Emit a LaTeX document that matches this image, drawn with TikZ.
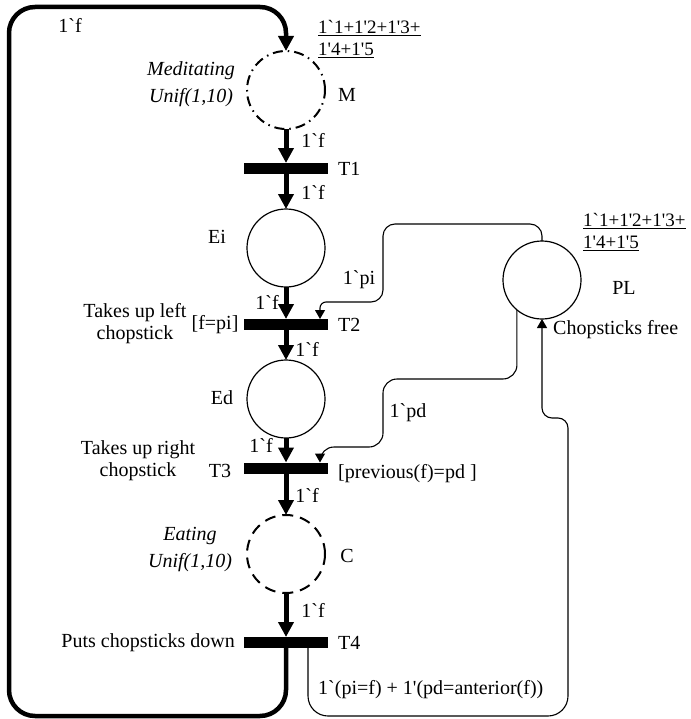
\documentclass[tikz,border=0pt]{standalone}
\usepackage{fontspec}
\setmainfont{Liberation Serif}[Ligatures=TeXOff]
\usetikzlibrary{arrows.meta}

\begin{document}
\begin{tikzpicture}[x=1bp,y=-1bp,
        every node/.style={inner sep=0pt,font=\fontsize{20bp}{22bp}\selectfont},
        placenode/.style={circle,draw,line width=1.2bp,minimum size=78bp,outer sep=0pt},
        transbar/.style={rectangle,fill=black,minimum width=84bp,minimum height=11bp,outer sep=0pt},
        bigarc/.style={line width=5bp,-{Triangle[length=15bp,width=15bp]}},
        smallarc/.style={line width=1.1bp,-{Triangle[length=9bp,width=10bp]}},
        stoch/.style={align=center,font=\fontsize{20bp}{27bp}\selectfont\itshape},
        marking/.style={anchor=west,align=left,font=\fontsize{19bp}{21.5bp}\selectfont}]
    \useasboundingbox (0,0) rectangle (691,719);
    % places
    \node[placenode,line width=2bp,dash pattern=on 10bp off 5bp on 1.5bp off 5bp] (M) at (286,90) {};
    \node[placenode] (Ei) at (286,248) {};
    \node[placenode] (Ed) at (286,399) {};
    \node[placenode,line width=2bp,dash pattern=on 11bp off 7bp] (C) at (286,554) {};
    \node[placenode] (PL) at (542,280) {};
    % transitions
    \node[transbar] (T1) at (286,168.5) {};
    \node[transbar] (T2) at (286,324.5) {};
    \node[transbar] (T3) at (286,468) {};
    \node[transbar] (T4) at (286,642.5) {};
    % main cycle
    \draw[bigarc] (M.south) -- (T1.north);
    \draw[bigarc] (T1.south) -- (Ei.north);
    \draw[bigarc] (Ei.south) -- (T2.north);
    \draw[bigarc] (T2.south) -- (Ed.north);
    \draw[bigarc] (Ed.south) -- (T3.north);
    \draw[bigarc] (T3.south) -- (C.north);
    \draw[bigarc] (C.south) -- (T4.north);
    \draw[bigarc,line width=4.5bp,rounded corners=26bp] (T4.south) |- (9,716) -- (9,7) -| (M.north);
    % chopsticks
    \draw[smallarc,rounded corners=12bp] (PL.north) -- ++(0,-17) -| (383,302) [rounded corners=6bp] -| ([xshift=34bp]T2.north);
    \draw[smallarc,rounded corners=14bp] (PL.230) |- (383,379) |- (320,447) [rounded corners=5bp] -- ([xshift=34bp]T3.north);
    \draw[smallarc,rounded corners=20bp] ([xshift=22bp]T4.south) |- (568,716) [rounded corners=10bp] -- (568,418) -| (PL.south);
    % labels
    \node (f0) at (70,25) {1`f};
    \node[marking] (mkM) at (318,39) {\underline{1`1+1'2+1'3+}\\\underline{1'4+1'5}};
    \node (labM) at (347,95) {M};
    \node[stoch] (tM) at (191,84) {Meditating\\Unif(1,10)};
    \node (e1) at (313,140) {1`f};
    \node[anchor=west] (labT1) at (338,169) {T1};
    \node (e2) at (313,192) {1`f};
    \node (labEi) at (217,237) {Ei};
    \node (e3) at (267,302) {1`f};
    \node[align=center] (nT2) at (135,324) {Takes up left\\chopstick};
    \node (gT2) at (215,325) {[f=pi]};
    \node[anchor=west] (labT2) at (338,325) {T2};
    \node (e4) at (307,349) {1`f};
    \node (labEd) at (222,398) {Ed};
    \node (e5) at (261,445) {1`f};
    \node[align=center] (nT3) at (138,461) {Takes up right\\chopstick};
    \node (labT3) at (220,471) {T3};
    \node[anchor=west] (gT3) at (338,474) {[previous(f)=pd ]};
    \node (e6) at (307,495) {1`f};
    \node[stoch] (tC) at (190,550) {Eating\\Unif(1,10)};
    \node (labC) at (347,556) {C};
    \node (e7) at (313,610) {1`f};
    \node[anchor=east] (nT4) at (235,643) {Puts chopsticks down};
    \node[anchor=west] (labT4) at (338,643) {T4};
    \node[anchor=west] (eT4PL) at (318,690) {1`(pi=f) + 1'(pd=anterior(f))};
    \node[marking] (mkPL) at (583,232) {\underline{1`1+1'2+1'3+}\\\underline{1'4+1'5}};
    \node (labPL) at (624,288) {PL};
    \node[anchor=west] (nPL) at (553,330) {Chopsticks free};
    \node (ePLT2) at (359,280) {1`pi};
    \node (ePLT3) at (408,413) {1`pd};
\end{tikzpicture}
\end{document}
